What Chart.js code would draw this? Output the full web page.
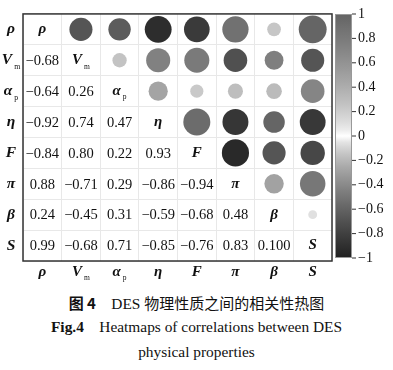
<!DOCTYPE html>
<html>
<head>
<meta charset="utf-8">
<script src="https://cdn.jsdelivr.net/npm/chart.js@4"></script>
<style>
  body { margin: 0; background: #fff; }
  #wrap { position: relative; width: 393px; height: 370px; }
  #c { position: absolute; left: 0; top: 0; }
  .cap { position: absolute; left: 0; width: 393px; text-align: center; color: #111;
         font-family: "Liberation Serif", serif; font-size: 15.4px; white-space: pre; }
  .cn { font-family: "Noto Sans CJK SC", sans-serif; font-size: 15px; }
</style>
</head>
<body>
<div id="wrap">
  <canvas id="c" width="393" height="285" style="width:393px;height:285px"></canvas>
  <div class="cap" style="top:292px"><b class="cn">图 4</b>    DES <span class="cn">物理性质之间的相关性热图</span></div>
  <div class="cap" style="top:318px"><b>Fig.4</b>    Heatmaps of correlations between DES</div>
  <div class="cap" style="top:343px">physical properties</div>
</div>
<script>
// variables (diagonal / axis labels) and their subscripts
const vars = ['ρ', 'V', 'α', 'η', 'F', 'π', 'β', 'S'];
const subs = ['', 'm', 'p', '', '', '', '', ''];

// lower triangle of the correlation matrix, row by row
const corr = [
    [],
    [-0.68],
    [-0.64, 0.26],
    [-0.92, 0.74, 0.47],
    [-0.84, 0.80, 0.22, 0.93],
    [0.88, -0.71, 0.29, -0.86, -0.94],
    [0.24, -0.45, 0.31, -0.59, -0.68, 0.48],
    [0.99, -0.68, 0.71, -0.85, -0.76, 0.83, 0.100]
];
// values printed differently in the figure
const textOverride = { '7,6': '0.100' };

// colorbar ticks
const cbTicks = [1, 0.8, 0.6, 0.4, 0.2, 0, -0.2, -0.4, -0.6, -0.8, -1];

const n = vars.length;

function grayFor(v) {
    const t = Math.pow(Math.abs(v), 0.7);
    let g;
    if (v >= 0) g = 255 - t * (255 - 100);
    else g = 255 - t * (255 - 32);
    g = Math.round(g);
    return 'rgb(' + g + ',' + g + ',' + g + ')';
}

// circles go in the upper triangle (row i, col j > i)
const bubbles = [];
for (let i = 0; i < n; i++) {
    for (let j = 0; j < i; j++) {
        const v = corr[i][j];
        bubbles.push({ x: i + 0.5, y: j + 0.5, r: 14 * Math.sqrt(Math.abs(v)), v: v });
    }
}

function fmt(v) {
    return (v < 0 ? '−' : '') + Math.abs(v).toFixed(2);
}

function drawVar(ctx, k, x, y, size) {
    ctx.save();
    ctx.font = 'italic bold ' + size + 'px "Liberation Serif"';
    ctx.textBaseline = 'middle';
    const w = ctx.measureText(vars[k]).width;
    let sw = 0;
    if (subs[k]) {
        ctx.font = (size * 0.5) + 'px "Liberation Serif"';
        sw = ctx.measureText(subs[k]).width;
    }
    const x0 = x - (w + sw + (subs[k] ? 2 : 0)) / 2;
    ctx.textAlign = 'left';
    ctx.font = 'italic bold ' + size + 'px "Liberation Serif"';
    ctx.fillText(vars[k], x0, y);
    if (subs[k]) {
        ctx.font = (size * 0.5) + 'px "Liberation Serif"';
        ctx.fillText(subs[k], x0 + w + 2, y + size * 0.42);
    }
    ctx.restore();
}

const matrixPlugin = {
    id: 'matrix',
    afterDatasetsDraw(chart) {
        const ctx = chart.ctx;
        const xs = chart.scales.x, ys = chart.scales.y;
        const a = chart.chartArea;
        ctx.save();
        ctx.fillStyle = '#111';

        // numbers in lower triangle
        ctx.font = '14.5px "Liberation Serif"';
        ctx.textAlign = 'center';
        ctx.textBaseline = 'middle';
        for (let i = 0; i < n; i++) {
            for (let j = 0; j < i; j++) {
                const t = textOverride[i + ',' + j] || fmt(corr[i][j]);
                ctx.fillText(t, xs.getPixelForValue(j + 0.5), ys.getPixelForValue(i + 0.5) + 1);
            }
        }
        // diagonal + axis labels
        for (let k = 0; k < n; k++) {
            const cx = xs.getPixelForValue(k + 0.5), cy = ys.getPixelForValue(k + 0.5);
            drawVar(ctx, k, cx, cy, 15);
            drawVar(ctx, k, 11, cy, 15.5);
            drawVar(ctx, k, cx, a.bottom + 11, 15);
        }

        // frame
        ctx.strokeStyle = '#333';
        ctx.lineWidth = 1.5;
        ctx.strokeRect(a.left, a.top, a.right - a.left, a.bottom - a.top);

        // colorbar
        const bx = 335, bw = 17, top = 14, bot = 258;
        const grad = ctx.createLinearGradient(0, top, 0, bot);
        for (let s = 0; s <= 40; s++) {
            const v = 1 - s / 20;
            grad.addColorStop(s / 40, grayFor(v));
        }
        ctx.fillStyle = grad;
        ctx.fillRect(bx, top, bw, bot - top);
        ctx.strokeStyle = '#999';
        ctx.lineWidth = 1;
        ctx.strokeRect(bx + 0.5, top + 0.5, bw - 1, bot - top - 1);
        ctx.fillStyle = '#111';
        ctx.strokeStyle = '#333';
        ctx.font = '14px "Liberation Serif"';
        ctx.textAlign = 'left';
        cbTicks.forEach(function (v) {
            const py = top + (1 - v) / 2 * (bot - top);
            ctx.beginPath();
            ctx.moveTo(bx + bw, py);
            ctx.lineTo(bx + bw + 4, py);
            ctx.stroke();
            const t = v === 0 ? '0' : (v < 0 ? '−' : '') + String(Math.abs(v));
            ctx.fillText(t, bx + bw + 6, py);
        });
        ctx.restore();
    }
};

new Chart(document.getElementById('c'), {
    type: 'bubble',
    data: {
        datasets: [{
            data: bubbles,
            backgroundColor: function (c) { return c.raw ? grayFor(c.raw.v) : '#888'; },
            borderWidth: 0,
            hoverBorderWidth: 0
        }]
    },
    options: {
        responsive: false,
        animation: false,
        events: [],
        layout: { padding: { left: 23, right: 61, top: 12, bottom: 24 } },
        plugins: { legend: { display: false }, tooltip: { enabled: false } },
        scales: {
            x: {
                type: 'linear', min: 0, max: n,
                ticks: { display: false, stepSize: 1 },
                grid: { color: '#e8e8e8', drawTicks: false },
                border: { display: false }
            },
            y: {
                type: 'linear', min: 0, max: n, reverse: true,
                ticks: { display: false, stepSize: 1 },
                grid: { color: '#e8e8e8', drawTicks: false },
                border: { display: false }
            }
        }
    },
    plugins: [matrixPlugin]
});
</script>
</body>
</html>
